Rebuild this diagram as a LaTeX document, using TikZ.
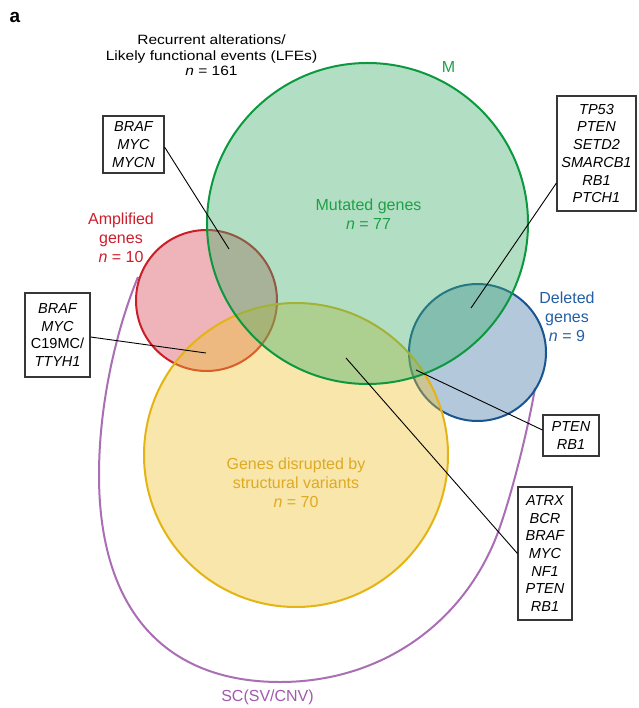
\documentclass[tikz,border=0pt]{standalone}
\usepackage{fontspec}
\setmainfont{Liberation Sans}
\newfontfamily\titlefont{Liberation Sans}[FakeStretch=1.15]
\usetikzlibrary{calc}
\definecolor{gfill}{RGB}{62,175,107}
\definecolor{gline}{RGB}{12,152,62}
\definecolor{rfill}{RGB}{212,67,80}
\definecolor{rline}{RGB}{205,30,40}
\definecolor{yfill}{RGB}{237,192,42}
\definecolor{yline}{RGB}{228,180,20}
\definecolor{bfill}{RGB}{67,117,167}
\definecolor{bline}{RGB}{25,85,145}
\definecolor{pline}{RGB}{170,110,180}
\definecolor{gtext}{RGB}{30,160,70}
\definecolor{rtext}{RGB}{205,30,45}
\definecolor{btext}{RGB}{35,95,165}
\definecolor{ytext}{RGB}{222,170,35}
\definecolor{ptext}{RGB}{160,90,170}
\definecolor{boxgray}{RGB}{55,55,55}
\tikzset{
  vset/.style={line width=2pt, fill opacity=0.4},
  genebox/.style={draw=boxgray, line width=1.1pt, fill=white, align=center, inner sep=0pt,
    font=\fontsize{14.5}{17.7}\selectfont\itshape},
  lbl/.style={align=center, font=\fontsize{16}{19}\selectfont},
  conn/.style={line width=0.9pt, black},
}
\begin{document}
\begin{tikzpicture}[x=1pt,y=-1pt]
\useasboundingbox (0,0) rectangle (638,708);
% SC curve
\draw[pline, line width=2pt] (138,277) .. controls (118,325) and (99,400) .. (99,475)
  .. controls (99,610) and (165,682) .. (280,682)
  .. controls (380,682) and (460,625) .. (495,540)
  .. controls (509,506) and (528,430) .. (535,388);
% circles
\coordinate (cR) at (206.5,300.5);
\coordinate (cB) at (477.5,352.5);
\coordinate (cY) at (296,455);
\coordinate (cG) at (367.5,223.5);
\draw[vset, draw=rline, fill=rfill] (cR) circle[radius=70.5];
\draw[vset, draw=bline, fill=bfill] (cB) circle[radius=68.5];
\draw[vset, draw=yline, fill=yfill] (cY) circle[radius=152];
\draw[vset, draw=gline, fill=gfill] (cG) circle[radius=160.5];
% labels
\node[font=\fontsize{19}{19}\selectfont\bfseries] (tag) at (15,17) {a};
\node[align=center, font=\titlefont\fontsize{13.5}{15.5}\selectfont] (title) at (211.5,55.5)
  {Recurrent alterations/\\Likely functional events (LFEs)\\\textit{n} = 161};
\node[lbl, text=gtext] (mlab) at (448.5,67) {M};
\node[lbl, text=gtext] (mut) at (368.5,214.5) {Mutated genes\\\textit{n} = 77};
\node[lbl, text=rtext] (amp) at (121,237.5) {Amplified\\genes\\\textit{n} = 10};
\node[lbl, text=btext] (del) at (567,317) {Deleted\\genes\\\textit{n} = 9};
\node[lbl, text=ytext] (sv) at (296,483) {Genes disrupted by\\structural variants\\\textit{n} = 70};
\node[lbl, text=ptext] (sc) at (267.5,697) {SC(SV/CNV)};
% gene boxes
\node[genebox, minimum width=61pt, minimum height=57pt] (b1) at (133.5,144.5) {BRAF\\MYC\\MYCN};
\node[genebox, minimum width=65pt, minimum height=84pt] (b2) at (57.5,335) {BRAF\\MYC\\\upshape C19MC/\\TTYH1};
\node[genebox, minimum width=79pt, minimum height=115pt] (b3) at (596.5,153.5) {TP53\\PTEN\\SETD2\\SMARCB1\\RB1\\PTCH1};
\node[genebox, minimum width=56pt, minimum height=41pt] (b4) at (571,435.5) {PTEN\\RB1};
\node[genebox, minimum width=54pt, minimum height=133pt] (b5) at (545,553.5) {ATRX\\BCR\\BRAF\\MYC\\NF1\\PTEN\\RB1};
% connector ends
\coordinate (e1) at (229,249);
\coordinate (e2) at (206,353);
\coordinate (e3) at (471,308);
\coordinate (e4) at (416,370);
\coordinate (e5) at (346,358);
\draw[conn] ([yshift=-2.5pt]b1.east) -- (e1);
\draw[conn] ([yshift=-2pt]b2.east) -- (e2);
\draw[conn] ([yshift=-29.5pt]b3.west) -- (e3);
\draw[conn] ([yshift=5.5pt]b4.west) -- (e4);
\draw[conn] (b5.west) -- (e5);
\end{tikzpicture}
\end{document}
